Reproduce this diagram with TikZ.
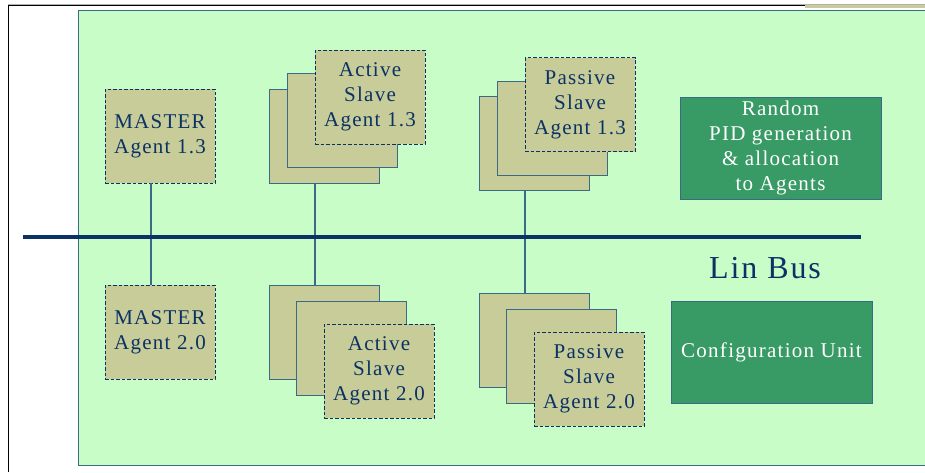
\documentclass[tikz,border=0pt]{standalone}
\usepackage{fontspec}
\setmainfont{Liberation Serif}
\newfontfamily\boxfont{Liberation Serif}[LetterSpace=6]
\definecolor{bggreen}{HTML}{C8FDC8}
\definecolor{tan}{HTML}{C8CC99}
\definecolor{navy}{HTML}{0B3264}
\definecolor{edgeblue}{HTML}{3A6A86}
\definecolor{unitgreen}{HTML}{389A64}
\tikzset{
  agent/.style={draw=navy, dash pattern=on 3.5pt off 2pt, fill=tan, minimum width=110pt, minimum height=94pt,
    inner sep=0pt, align=center, text=navy, font=\boxfont\fontsize{21}{25}\selectfont},
  backbox/.style={draw=edgeblue, fill=tan, minimum width=110pt, minimum height=94pt, inner sep=0pt},
  unit/.style={draw=edgeblue, fill=unitgreen, minimum width=201pt, minimum height=102pt, inner sep=0pt,
    align=center, text=white, font=\boxfont\fontsize{21}{25}\selectfont},
  link/.style={draw=edgeblue, line width=1.2pt}
}

\begin{document}
\begin{tikzpicture}[x=1pt, y=-1pt]
\useasboundingbox (0,0) rectangle (925,472);
% frame
\draw[gray!60, line width=0.8pt] (8,4) -- (925,4);
\draw[black, line width=1pt] (8,472) -- (8,5.5) -- (805,5.5);
\draw[tan, line width=3.5pt] (805,6.5) -- (925,6.5);
\draw[edgeblue, fill=bggreen, line width=0.8pt] (78,10) rectangle (935,465);

% bus
\coordinate (busL) at (23,237);
\coordinate (busR) at (861,237);

% masters
\node[agent] (m13) at (160,136) {MASTER\\Agent 1.3};
\node[agent] (m20) at (160,332) {MASTER\\Agent 2.0};

% active slaves 1.3
\node[backbox] (a13c) at (324,136) {};
\node[backbox] (a13b) at (342.5,120) {};
\node[agent] (a13) at (370,97) {Active\\Slave\\Agent 1.3};

% passive slaves 1.3
\node[backbox] (p13c) at (534,143.5) {};
\node[backbox] (p13b) at (552,128) {};
\node[agent] (p13) at (580,104.5) {Passive\\Slave\\Agent 1.3};

% active slaves 2.0
\node[backbox] (a20c) at (324,332) {};
\node[backbox] (a20b) at (351.5,348) {};
\node[agent] (a20) at (379,371) {Active\\Slave\\Agent 2.0};

% passive slaves 2.0
\node[backbox] (p20c) at (534,340) {};
\node[backbox] (p20b) at (561,356) {};
\node[agent] (p20) at (589,379) {Passive\\Slave\\Agent 2.0};

% units
\node[unit] (pid) at (780.5,148) {Random\\PID generation\\\& allocation\\to Agents};
\node[unit] (conf) at (771.5,352) {Configuration Unit};
\node[text=navy, font=\boxfont\fontsize{32}{38}\selectfont] (lin) at (765,268) {Lin Bus};

% links to bus
\draw[link] ([xshift=-9pt]m13.south) -- ([xshift=-9pt]m13.south |- busL);
\draw[link] ([xshift=-9pt]m20.north) -- ([xshift=-9pt]m20.north |- busL);
\draw[link] ([xshift=-9pt]a13c.south) -- ([xshift=-9pt]a13c.south |- busL);
\draw[link] ([xshift=-9pt]a20c.north) -- ([xshift=-9pt]a20c.north |- busL);
\draw[link] ([xshift=-9pt]p13c.south) -- ([xshift=-9pt]p13c.south |- busL);
\draw[link] ([xshift=-9pt]p20c.north) -- ([xshift=-9pt]p20c.north |- busL);
\draw[navy, line width=4pt] (busL) -- (busR);
\end{tikzpicture}
\end{document}
